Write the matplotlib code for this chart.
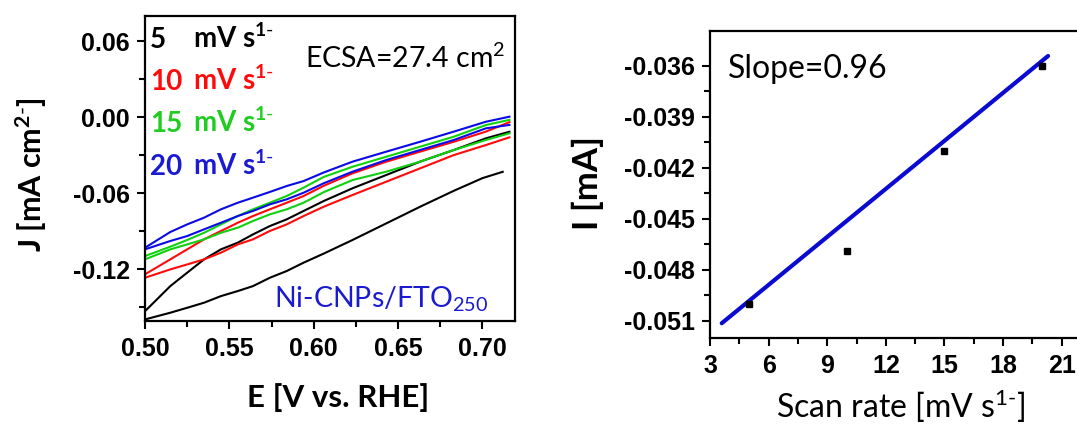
import matplotlib
matplotlib.use("Agg")
import matplotlib.pyplot as plt

# ---------------- data ----------------
# CV potentials (V vs. RHE)
E = [0.500, 0.515, 0.525, 0.535, 0.545, 0.555, 0.564, 0.574, 0.584, 0.594,
     0.606, 0.623, 0.643, 0.663, 0.683, 0.702, 0.716]

# 5 mV/s (black)
j5_up = [-0.1530, -0.1332, -0.1226, -0.1121, -0.1042, -0.0989, -0.0924, -0.0858, -0.0805, -0.0739,
         -0.0660, -0.0560, -0.0455, -0.0350, -0.0258, -0.0166, -0.0114]
E5_low = [0.500, 0.515, 0.525, 0.535, 0.545, 0.555, 0.564, 0.574, 0.584, 0.594,
          0.606, 0.623, 0.643, 0.663, 0.683, 0.700, 0.712]
j5_low = [-0.1595, -0.1542, -0.1503, -0.1463, -0.1411, -0.1371, -0.1332, -0.1266, -0.1213, -0.1147,
          -0.1075, -0.0968, -0.0837, -0.0706, -0.0580, -0.0480, -0.0430]
# 10 mV/s (red)
j10_up = [-0.1239, -0.1121, -0.1042, -0.0963, -0.0897, -0.0832, -0.0779, -0.0726, -0.0674, -0.0621,
          -0.0540, -0.0442, -0.0350, -0.0271, -0.0193, -0.0113, -0.0038]
j10_low = [-0.1266, -0.1200, -0.1161, -0.1121, -0.1068, -0.1003, -0.0963, -0.0897, -0.0845, -0.0779,
           -0.0705, -0.0613, -0.0508, -0.0403, -0.0298, -0.0219, -0.0158]
# 15 mV/s (green)
j15_up = [-0.1095, -0.1021, -0.0968, -0.0911, -0.0845, -0.0779, -0.0726, -0.0674, -0.0621, -0.0555,
          -0.0470, -0.0390, -0.0311, -0.0232, -0.0153, -0.0061, -0.0020]
j15_low = [-0.1121, -0.1042, -0.1003, -0.0963, -0.0911, -0.0871, -0.0818, -0.0766, -0.0726, -0.0674,
           -0.0590, -0.0495, -0.0429, -0.0350, -0.0258, -0.0179, -0.0126]
# 20 mV/s (blue)
j20_up = [-0.1029, -0.0905, -0.0845, -0.0792, -0.0726, -0.0674, -0.0634, -0.0589, -0.0542, -0.0503,
          -0.0435, -0.0350, -0.0271, -0.0193, -0.0113, -0.0035, 0.0005]
j20_low = [-0.1042, -0.0976, -0.0937, -0.0884, -0.0832, -0.0779, -0.0739, -0.0687, -0.0647, -0.0595,
           -0.0520, -0.0429, -0.0337, -0.0258, -0.0179, -0.0087, -0.0060]

scan_labels = ["5", "10", "15", "20"]

# Right panel
scan_rate = [5, 10, 15, 20]
current = [-0.0500, -0.0469, -0.0410, -0.0360]
fit_x = [3.6, 20.3]
fit_y = [-0.05115, -0.03543]

# ---------------- style ----------------
W, H = 1077, 426
plt.rcParams['mathtext.fontset'] = 'custom'
plt.rcParams['mathtext.rm'] = 'Lato'
plt.rcParams['mathtext.bf'] = 'Lato:bold'
plt.rcParams['mathtext.default'] = 'regular'

TXT = 'Lato'
TICKF = 'Liberation Sans'

BLACK = '#000000'
RED = '#ff0a0a'
GREEN = '#10d010'
BLUE_L = '#0a0ae6'
BLUE_T = '#1a1ad0'

SUP = r'$^{1\text{-}}$'

fig = plt.figure(figsize=(W / 100, H / 100), dpi=100)


def fx(px):
    return px / W


def fy(py):
    return 1 - py / H


def style_axes(ax):
    for s in ax.spines.values():
        s.set_linewidth(1.6)
    ax.tick_params(which='both', direction='out', top=False, right=False, width=1.5)
    ax.tick_params(which='major', length=6, pad=5)
    ax.tick_params(which='minor', length=4)
    for lab in ax.get_xticklabels() + ax.get_yticklabels():
        lab.set_fontfamily(TICKF)
        lab.set_fontweight('bold')
        lab.set_fontsize(18)


# ---------------- left panel ----------------
ax1 = fig.add_axes([fx(145), fy(320.7), (514.5 - 145) / W, (320.7 - 15.7) / H])
ax1.plot(E, j5_up, color=BLACK, lw=1.5)
ax1.plot(E5_low, j5_low, color=BLACK, lw=1.5)
ax1.plot(E, j10_up, color=RED, lw=1.5)
ax1.plot(E, j10_low, color=RED, lw=1.5)
ax1.plot(E, j15_up, color=GREEN, lw=1.5)
ax1.plot(E, j15_low, color=GREEN, lw=1.5)
ax1.plot(E, j20_up, color=BLUE_L, lw=1.5)
ax1.plot(E, j20_low, color=BLUE_L, lw=1.5)
ax1.set_xlim(0.50, 0.719)
ax1.set_ylim(-0.1605, 0.0802)
ax1.set_xticks([0.50, 0.55, 0.60, 0.65, 0.70])
ax1.set_xticks([0.525, 0.575, 0.625, 0.675], minor=True)
ax1.set_yticks([0.06, 0.00, -0.06, -0.12])
ax1.set_yticks([0.03, -0.03, -0.09, -0.15], minor=True)
ax1.set_xticklabels(['0.50', '0.55', '0.60', '0.65', '0.70'])
ax1.set_yticklabels(['0.06', '0.00', '-0.06', '-0.12'])
style_axes(ax1)
ax1.tick_params(axis='x', which='major', pad=6)

ax1.set_xlabel('E [V vs. RHE]', fontfamily=TXT, fontweight='bold', fontsize=22.5)
ax1.xaxis.set_label_coords((338 - 145) / 369.5, (320.7 - 407) / 305)
ax1.xaxis.label.set_va('baseline')
ax1.set_ylabel('J [mA cm$^{2\\text{-}}$]', fontfamily=TXT, fontweight='bold', fontsize=22)
ax1.yaxis.set_label_coords((31 - 145) / 369.5, (320.7 - 175) / 305)
ax1.yaxis.label.set_va('center')

colors_t = [BLACK, RED, '#20cc20', BLUE_T]
baselines = [48, 90, 132, 175]
for lab, c, b in zip(scan_labels, colors_t, baselines):
    fig.text(fx(150), fy(b), lab, color=c, fontfamily=TXT, fontweight='bold',
             fontsize=20, va='baseline', ha='left')
    fig.text(fx(193), fy(b), 'mV s' + SUP, color=c, fontfamily=TXT, fontweight='bold',
             fontsize=20, va='baseline', ha='left')

fig.text(fx(305), fy(68), 'ECSA=27.4 cm$^{2}$', color=BLACK, fontfamily=TXT,
         fontweight='normal', fontsize=20.5, va='baseline', ha='left')
fig.text(fx(274), fy(308), 'Ni-CNPs/FTO$_{250}$', color=BLUE_T, fontfamily=TXT,
         fontweight='normal', fontsize=20.5, va='baseline', ha='left')

# ---------------- right panel ----------------
ax2 = fig.add_axes([fx(710), fy(337.7), 19.5 * 19.54 / W, (337.7 - 31) / H])
ax2.plot(fit_x, fit_y, color='#0a0ad0', lw=3, solid_capstyle='round')
ax2.plot(scan_rate, current, 's', color=BLACK, ms=4)
ax2.set_xlim(3, 22.5)
ax2.set_ylim(-0.0520, -0.03396)
ax2.set_xticks([3, 6, 9, 12, 15, 18, 21])
ax2.set_xticks([4.5, 7.5, 10.5, 13.5, 16.5, 19.5], minor=True)
ax2.set_yticks([-0.036, -0.039, -0.042, -0.045, -0.048, -0.051])
ax2.set_yticks([-0.0375, -0.0405, -0.0435, -0.0465, -0.0495], minor=True)
ax2.set_xticklabels(['3', '6', '9', '12', '15', '18', '21'])
ax2.set_yticklabels(['-0.036', '-0.039', '-0.042', '-0.045', '-0.048', '-0.051'])
style_axes(ax2)
ax2.tick_params(axis='x', which='major', pad=6)

ax2.set_xlabel('Scan rate [mV s' + SUP + ']', fontfamily=TXT, fontweight='normal', fontsize=23)
ax2.xaxis.set_label_coords((901 - 710) / 381, (337.7 - 418) / 306.7)
ax2.xaxis.label.set_va('baseline')
ax2.set_ylabel('I [mA]', fontfamily=TXT, fontweight='bold', fontsize=25)
ax2.yaxis.set_label_coords((588 - 710) / 381, (337.7 - 183) / 306.7)
ax2.yaxis.label.set_va('center')

fig.text(fx(728), fy(78), 'Slope=0.96', color=BLACK, fontfamily=TXT,
         fontweight='normal', fontsize=23, va='baseline', ha='left')

fig.savefig('out.png', dpi=100)
